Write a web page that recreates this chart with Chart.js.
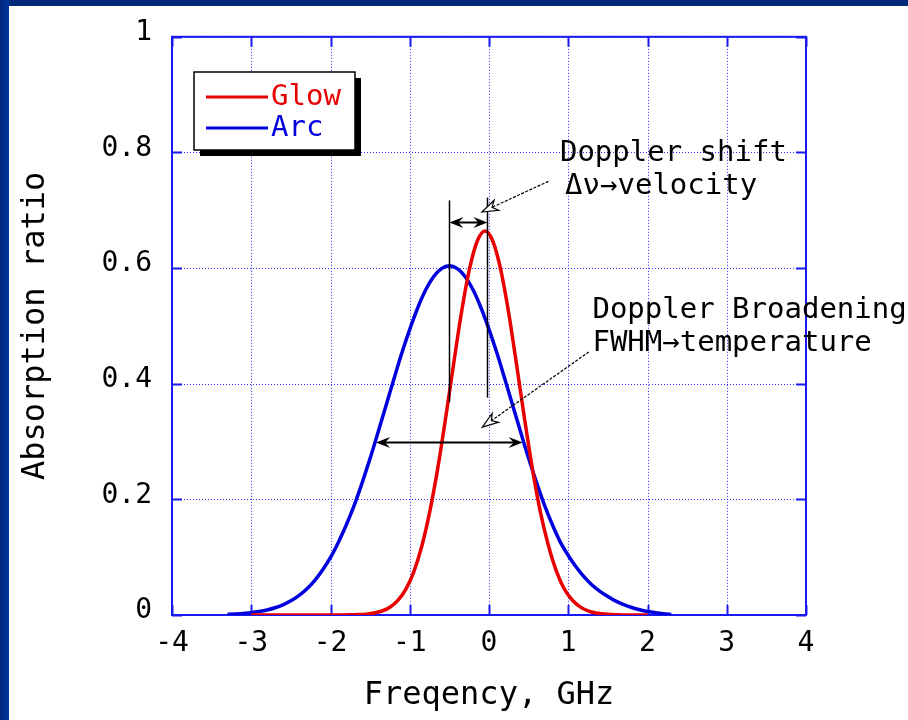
<!DOCTYPE html>
<html>
<head>
<meta charset="utf-8">
<script src="https://cdn.jsdelivr.net/npm/chart.js@4.4.1/dist/chart.umd.min.js"></script>
<style>
  html, body { margin: 0; padding: 0; background: #ffffff; }
  #wrap { position: relative; width: 908px; height: 720px; background: #ffffff; overflow: hidden; }
  #topbar { position: absolute; left: 0; top: 0; width: 908px; height: 6px; background: #002a78; }
  #leftbar { position: absolute; left: 0; top: 0; width: 9px; height: 720px; background: linear-gradient(to right, #00257a, #0035a0); }
  canvas { position: absolute; left: 0; top: 0; }
</style>
</head>
<body>
<div id="wrap">
  <canvas id="c" width="908" height="720"></canvas>
  <div id="topbar"></div>
  <div id="leftbar"></div>
</div>
<script>
// ---- data ----
const glowFreq = [-3.0, -2.5, -2.0, -1.75, -1.65, -1.55, -1.45, -1.35, -1.25, -1.15, -1.05, -0.95, -0.85, -0.75, -0.65, -0.55, -0.45, -0.35, -0.25, -0.15, -0.05, 0.05, 0.15, 0.25, 0.35, 0.45, 0.55, 0.65, 0.75, 0.85, 0.95, 1.05, 1.15, 1.25, 1.35, 1.45, 1.55, 1.65, 1.75, 2.0];
const glowAbs  = [0, 0, 0, 0.0003, 0.0007, 0.0015, 0.0033, 0.0069, 0.0135, 0.0252, 0.0444, 0.0743, 0.118, 0.177, 0.251, 0.338, 0.431, 0.521, 0.596, 0.646, 0.664, 0.646, 0.596, 0.521, 0.431, 0.338, 0.251, 0.177, 0.120, 0.076, 0.045, 0.026, 0.014, 0.0072, 0.0035, 0.0016, 0.0007, 0.0003, 0, 0];

const arcFreq = [-3.3, -3.2, -3.1, -3.0, -2.9, -2.8, -2.7, -2.6, -2.5, -2.4, -2.3, -2.2, -2.1, -2.0, -1.9, -1.8, -1.7, -1.6, -1.5, -1.4, -1.3, -1.2, -1.1, -1.0, -0.9, -0.8, -0.7, -0.6, -0.5, -0.4, -0.3, -0.2, -0.1, 0.0, 0.1, 0.2, 0.3, 0.4, 0.5, 0.6, 0.7, 0.8, 0.9, 1.0, 1.1, 1.2, 1.3, 1.4, 1.5, 1.6, 1.7, 1.8, 1.9, 2.0, 2.1, 2.2, 2.3];
const arcAbs  = [0.0011, 0.0018, 0.0027, 0.004, 0.006, 0.0087, 0.0125, 0.0176, 0.0245, 0.0335, 0.0451, 0.0596, 0.0777, 0.0995, 0.126, 0.156, 0.190, 0.229, 0.271, 0.316, 0.362, 0.408, 0.453, 0.494, 0.531, 0.562, 0.585, 0.599, 0.604, 0.599, 0.585, 0.562, 0.531, 0.494, 0.453, 0.408, 0.362, 0.316, 0.271, 0.229, 0.190, 0.156, 0.126, 0.103, 0.083, 0.066, 0.052, 0.041, 0.032, 0.024, 0.018, 0.013, 0.009, 0.006, 0.004, 0.002, 0.001];

const seriesNames = ['Glow', 'Arc'];
const xTicks = [-4, -3, -2, -1, 0, 1, 2, 3, 4];
const yTicks = [0, 0.2, 0.4, 0.6, 0.8, 1];
const yTickLabels = ['0', '0.2', '0.4', '0.6', '0.8', '1'];

// annotation geometry (in data units)
const peakMarkers = [[-0.5, 0.717, 0.368], [-0.02, 0.722, 0.376]];   // [freq, yTop, yBottom]
const shiftArrow = [-0.5, -0.02, 0.68];                              // [freq1, freq2, y]
const fwhmArrow  = [-1.425, 0.425, 0.30];                            // [freq1, freq2, y]
const leaderLines = [[0.75, 0.75, -0.09, 0.697], [1.26, 0.455, -0.085, 0.325]]; // [fromX, fromY, toX, toY]
const noteTexts = ['Doppler shift', 'Δν→velocity', 'Doppler Broadening', 'FWHM→temperature'];
const notePos   = [[0.895, 0.799], [0.96, 0.742], [1.305, 0.5275], [1.305, 0.469]];

// ---- drawing ----
const RED = 'rgb(232,0,0)';
const BLUE = 'rgb(0,0,222)';
const GRIDBLUE = 'rgb(45,45,255)';
const FRAMEBLUE = 'rgb(25,25,240)';
const MONO = '"DejaVu Sans Mono", "Liberation Mono", monospace';

function filledHead(ctx, x, y, ang, len, half) {
  ctx.save();
  ctx.translate(x, y); ctx.rotate(ang);
  ctx.beginPath();
  ctx.moveTo(0, 0);
  ctx.lineTo(-len, -half);
  ctx.lineTo(-len * 0.65, 0);
  ctx.lineTo(-len, half);
  ctx.closePath();
  ctx.fillStyle = '#000'; ctx.fill();
  ctx.restore();
}
function openHead(ctx, x, y, ang, len, half) {
  ctx.save();
  ctx.translate(x, y); ctx.rotate(ang);
  ctx.beginPath();
  ctx.moveTo(0, 0);
  ctx.lineTo(-len, -half);
  ctx.lineTo(-len * 0.7, 0);
  ctx.lineTo(-len, half);
  ctx.closePath();
  ctx.fillStyle = '#fff'; ctx.fill();
  ctx.setLineDash([]);
  ctx.lineWidth = 1.2; ctx.strokeStyle = '#000'; ctx.stroke();
  ctx.restore();
}

const framePlugin = {
  id: 'frame',
  beforeDatasetsDraw(chart) {
    const {ctx, chartArea: a, scales: {x, y}} = chart;
    ctx.save();
    // dotted grid, aligned to whole pixels
    ctx.strokeStyle = GRIDBLUE;
    ctx.lineWidth = 1;
    ctx.setLineDash([1, 2]);
    ctx.beginPath();
    xTicks.forEach(v => {
      const p = Math.round(x.getPixelForValue(v)) + 0.5;
      ctx.moveTo(p, a.top); ctx.lineTo(p, a.bottom);
    });
    yTicks.forEach(v => {
      const p = Math.round(y.getPixelForValue(v)) + 0.5;
      ctx.moveTo(a.left, p); ctx.lineTo(a.right, p);
    });
    ctx.stroke();
    // frame
    ctx.setLineDash([]);
    ctx.strokeStyle = FRAMEBLUE;
    ctx.lineWidth = 2;
    ctx.strokeRect(a.left, a.top, a.right - a.left, a.bottom - a.top);
    // inward ticks
    const tl = 10;
    ctx.beginPath();
    xTicks.forEach(v => {
      const p = Math.round(x.getPixelForValue(v)) + 0.5;
      ctx.moveTo(p, a.bottom); ctx.lineTo(p, a.bottom - tl);
      ctx.moveTo(p, a.top); ctx.lineTo(p, a.top + tl);
    });
    yTicks.forEach(v => {
      const p = Math.round(y.getPixelForValue(v)) + 0.5;
      ctx.moveTo(a.left, p); ctx.lineTo(a.left + tl, p);
      ctx.moveTo(a.right, p); ctx.lineTo(a.right - tl, p);
    });
    ctx.stroke();
    ctx.restore();
  }
};

const notesPlugin = {
  id: 'notes',
  afterDatasetsDraw(chart) {
    const {ctx, scales: {x, y}} = chart;
    const X = v => x.getPixelForValue(v), Y = v => y.getPixelForValue(v);
    ctx.save();
    // vertical peak markers
    ctx.strokeStyle = '#000'; ctx.lineWidth = 1.5; ctx.setLineDash([]);
    peakMarkers.forEach(m => {
      ctx.beginPath(); ctx.moveTo(Math.round(X(m[0])) + 0.5, Y(m[1])); ctx.lineTo(Math.round(X(m[0])) + 0.5, Y(m[2])); ctx.stroke();
    });
    // double arrows
    [shiftArrow, fwhmArrow].forEach(a => {
      const x1 = X(a[0]), x2 = X(a[1]), yy = Math.round(Y(a[2])) + 0.5;
      ctx.lineWidth = 2; ctx.strokeStyle = '#000';
      ctx.beginPath(); ctx.moveTo(x1 + 4, yy); ctx.lineTo(x2 - 4, yy); ctx.stroke();
      filledHead(ctx, x1, yy, Math.PI, 14, 5.5);
      filledHead(ctx, x2, yy, 0, 14, 5.5);
    });
    // leader lines with open arrowheads
    leaderLines.forEach(l => {
      const fx = X(l[0]), fy = Y(l[1]), tx = X(l[2]), ty = Y(l[3]);
      const ang = Math.atan2(ty - fy, tx - fx);
      ctx.strokeStyle = '#000'; ctx.lineWidth = 1.2; ctx.setLineDash([3, 1.5]);
      ctx.beginPath(); ctx.moveTo(fx, fy); ctx.lineTo(tx - Math.cos(ang) * 10, ty - Math.sin(ang) * 10); ctx.stroke();
      openHead(ctx, tx, ty, ang, 16, 5.5);
    });
    // texts
    ctx.setLineDash([]);
    ctx.fillStyle = '#000';
    ctx.font = '29px ' + MONO;
    ctx.textAlign = 'left'; ctx.textBaseline = 'middle';
    noteTexts.forEach((t, i) => ctx.fillText(t, X(notePos[i][0]), Y(notePos[i][1])));
    ctx.restore();
  },
  afterDraw(chart) {
    // legend box
    const {ctx} = chart;
    const ds = chart.data.datasets;
    ctx.save();
    const bx = 194, by = 72, bw = 161, bh = 78, sh = 6;
    ctx.fillStyle = '#000';
    ctx.fillRect(bx + sh, by + sh, bw, bh);
    ctx.fillStyle = '#fff';
    ctx.fillRect(bx, by, bw, bh);
    ctx.strokeStyle = '#000'; ctx.lineWidth = 1.5;
    ctx.strokeRect(bx, by, bw, bh);
    ctx.font = '29px ' + MONO;
    ctx.textAlign = 'left'; ctx.textBaseline = 'middle';
    ds.forEach((d, i) => {
      const yy = by + 25 + i * 31;
      ctx.strokeStyle = d.borderColor; ctx.lineWidth = 3;
      ctx.beginPath(); ctx.moveTo(bx + 12, yy); ctx.lineTo(bx + 74, yy); ctx.stroke();
      ctx.fillStyle = d.borderColor;
      ctx.fillText(d.label, bx + 77, yy);
    });
    ctx.restore();
  }
};

const toPts = (xs, ys) => xs.map((v, i) => ({x: v, y: ys[i]}));

new Chart(document.getElementById('c'), {
  type: 'line',
  data: {
    datasets: [
      { label: seriesNames[0], data: toPts(glowFreq, glowAbs), borderColor: RED, borderWidth: 3.5, pointRadius: 0, fill: false, cubicInterpolationMode: 'monotone' },
      { label: seriesNames[1], data: toPts(arcFreq, arcAbs), borderColor: BLUE, borderWidth: 3.5, pointRadius: 0, fill: false, cubicInterpolationMode: 'monotone' }
    ]
  },
  options: {
    responsive: false,
    devicePixelRatio: 1,
    animation: false,
    layout: { padding: { left: 0, right: 102, top: 33, bottom: 0 } },
    plugins: { legend: { display: false }, tooltip: { enabled: false } },
    scales: {
      x: {
        type: 'linear', min: -4, max: 4,
        afterBuildTicks: s => { s.ticks = xTicks.map(v => ({value: v})); },
        afterFit: s => { s.height = 105; },
        grid: { display: false, drawTicks: false },
        border: { display: false },
        ticks: { color: '#000', font: { family: MONO, size: 28 }, padding: 12, maxRotation: 0, callback: v => String(v) },
        title: { display: true, text: 'Freqency, GHz', color: '#000', font: { family: MONO, size: 32 }, padding: { top: 0, bottom: 5 } }
      },
      y: {
        type: 'linear', min: 0, max: 1,
        afterBuildTicks: s => { s.ticks = yTicks.map(v => ({value: v})); },
        afterFit: s => { s.width = 172; },
        grid: { display: false, drawTicks: false },
        border: { display: false },
        ticks: { color: '#000', font: { family: MONO, size: 28 }, padding: 20, labelOffset: -4,
                 callback: (v, i) => yTickLabels[i] },
        title: { display: true, text: 'Absorption ratio', color: '#000', font: { family: MONO, size: 32 }, padding: { top: 16, bottom: 0 } }
      }
    }
  },
  plugins: [framePlugin, notesPlugin]
});
</script>
</body>
</html>
